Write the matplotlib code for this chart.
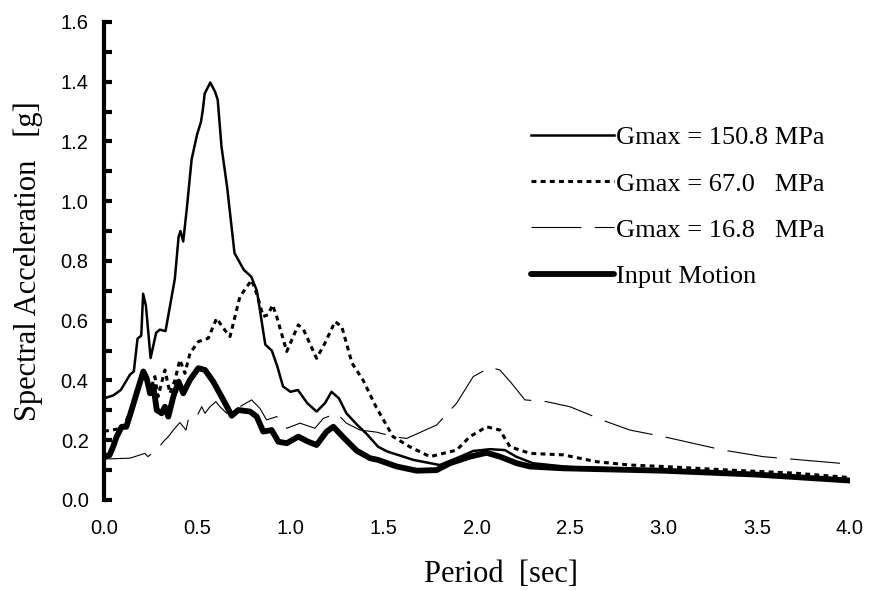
import numpy as np
import matplotlib
matplotlib.use('Agg')
import matplotlib.pyplot as plt

# period [sec] and spectral acceleration [g]
x_150=[0.0,0.05,0.09,0.14,0.16,0.18,0.2,0.21,0.225,0.25,0.28,0.30,0.33,0.36,0.38,0.40,0.41,0.425,0.445,0.47,0.50,0.52,0.53,0.54,0.57,0.595,0.61,0.63,0.66,0.68,0.70,0.75,0.79,0.82,0.85,0.865,0.90,0.93,0.96,1.0,1.04,1.09,1.14,1.185,1.22,1.26,1.30,1.36,1.41,1.47,1.52,1.66,1.80,1.91,1.98,2.07,2.15,2.21,2.30,2.5,3.0,3.5,4.0]
y_150=[0.34,0.35,0.368,0.42,0.43,0.54,0.55,0.69,0.65,0.475,0.56,0.57,0.565,0.67,0.74,0.88,0.90,0.865,0.98,1.14,1.225,1.265,1.305,1.36,1.397,1.367,1.339,1.183,1.049,0.937,0.826,0.77,0.747,0.70,0.58,0.52,0.50,0.446,0.38,0.362,0.368,0.324,0.296,0.324,0.362,0.34,0.29,0.25,0.22,0.178,0.162,0.134,0.117,0.145,0.164,0.17,0.167,0.145,0.123,0.11,0.10,0.085,0.065]

x_67=[0.0,0.05,0.1,0.13,0.16,0.18,0.21,0.23,0.25,0.273,0.29,0.327,0.354,0.38,0.407,0.434,0.461,0.506,0.559,0.604,0.64,0.676,0.729,0.792,0.819,0.854,0.88,0.904,0.926,0.98,1.042,1.07,1.14,1.185,1.239,1.275,1.33,1.39,1.46,1.55,1.64,1.748,1.891,1.962,2.052,2.123,2.177,2.284,2.463,2.642,2.82,3.0,3.357,3.7,4.0]
y_67=[0.23,0.235,0.24,0.28,0.33,0.38,0.41,0.40,0.37,0.413,0.346,0.435,0.357,0.40,0.469,0.424,0.491,0.53,0.541,0.608,0.575,0.547,0.681,0.736,0.69,0.614,0.62,0.653,0.614,0.497,0.586,0.57,0.474,0.525,0.597,0.58,0.458,0.40,0.31,0.212,0.178,0.145,0.167,0.212,0.245,0.234,0.178,0.156,0.151,0.128,0.117,0.112,0.10,0.09,0.075]

x_168=[0.0,0.14,0.22,0.235,0.283,0.318,0.345,0.372,0.407,0.44,0.452,0.479,0.497,0.524,0.542,0.568,0.60,0.622,0.658,0.70,0.75,0.792,0.837,0.872,0.926,0.98,1.051,1.131,1.176,1.248,1.30,1.373,1.462,1.551,1.623,1.784,1.891,1.98,2.07,2.123,2.186,2.257,2.373,2.499,2.695,2.82,3.0,3.32,3.535,4.0]
y_168=[0.137,0.14,0.156,0.145,0.167,0.195,0.212,0.234,0.259,0.234,0.268,0.285,0.279,0.312,0.29,0.312,0.329,0.312,0.29,0.30,0.32,0.335,0.306,0.268,0.279,0.24,0.257,0.24,0.273,0.29,0.257,0.234,0.227,0.212,0.206,0.251,0.324,0.413,0.444,0.435,0.39,0.335,0.329,0.312,0.262,0.234,0.212,0.167,0.145,0.12]

x_in=[0.0,0.03,0.05,0.068,0.095,0.12,0.148,0.175,0.211,0.229,0.247,0.265,0.283,0.309,0.327,0.345,0.372,0.40,0.425,0.461,0.506,0.542,0.586,0.64,0.685,0.72,0.783,0.819,0.854,0.899,0.935,0.98,1.042,1.095,1.14,1.194,1.23,1.283,1.355,1.426,1.47,1.57,1.677,1.784,1.855,1.962,2.052,2.123,2.213,2.284,2.463,3.0,3.5,4.0]
y_in=[0.145,0.15,0.18,0.212,0.245,0.245,0.301,0.357,0.43,0.407,0.357,0.38,0.301,0.29,0.312,0.279,0.346,0.396,0.357,0.402,0.441,0.435,0.396,0.335,0.282,0.301,0.296,0.279,0.229,0.234,0.195,0.19,0.212,0.195,0.184,0.229,0.245,0.21,0.165,0.14,0.134,0.112,0.098,0.10,0.123,0.145,0.158,0.145,0.123,0.112,0.106,0.098,0.085,0.065]

labels=['Gmax = 150.8 MPa','Gmax = 67.0   MPa','Gmax = 16.8   MPa','Input Motion']

serif='Liberation Serif'
sans='Liberation Sans'

fig=plt.figure(figsize=(8.7,5.91),dpi=100)
ax=fig.add_axes([0.1195,0.154,0.8575,0.809])

ax.plot(x_150,y_150,color='black',lw=1.8,label=labels[0])
ax.plot(x_67,y_67,color='black',lw=2.2,dashes=(1.6,1.4),label=labels[1])
ax.plot(x_168,y_168,color='black',lw=0.8,dashes=(45,12),label=labels[2])
ax.plot(x_in,y_in,color='black',lw=4.2,solid_capstyle='round',label=labels[3])

ax.set_xlim(0,4.0)
ax.set_ylim(0,1.6)
ax.set_xticks(np.arange(0,4.01,0.5))
ax.set_yticks(np.arange(0,1.61,0.2))
ax.set_yticks(np.arange(0.1,1.6,0.2),minor=True)
ax.set_xticklabels([f'{v:.1f}' for v in np.arange(0,4.01,0.5)],fontfamily=sans,fontsize=14.5)
ax.set_yticklabels([f'{v:.1f}' for v in np.arange(0,1.61,0.2)],fontfamily=sans,fontsize=14.5)

for s in ['top','right','bottom']:
    ax.spines[s].set_visible(False)
ax.spines['left'].set_linewidth(3)
ax.tick_params(axis='y',which='both',direction='in',length=6,width=3,pad=11)
ax.tick_params(axis='x',length=0,pad=14)

ax.set_xlabel('Period  [sec]',fontfamily=serif,fontsize=22)
ax.xaxis.set_label_coords(0.532,-0.125)
ax.set_ylabel('Spectral Acceleration   [g]',fontfamily=serif,fontsize=22,labelpad=13)

ax.legend(loc='upper left',bbox_to_anchor=(0.555,0.81),frameon=False,
          prop={'family':serif,'size':19},handlelength=3.15,handletextpad=0.08,
          labelspacing=0.86,borderpad=0)

fig.savefig('out.png',dpi=100)
